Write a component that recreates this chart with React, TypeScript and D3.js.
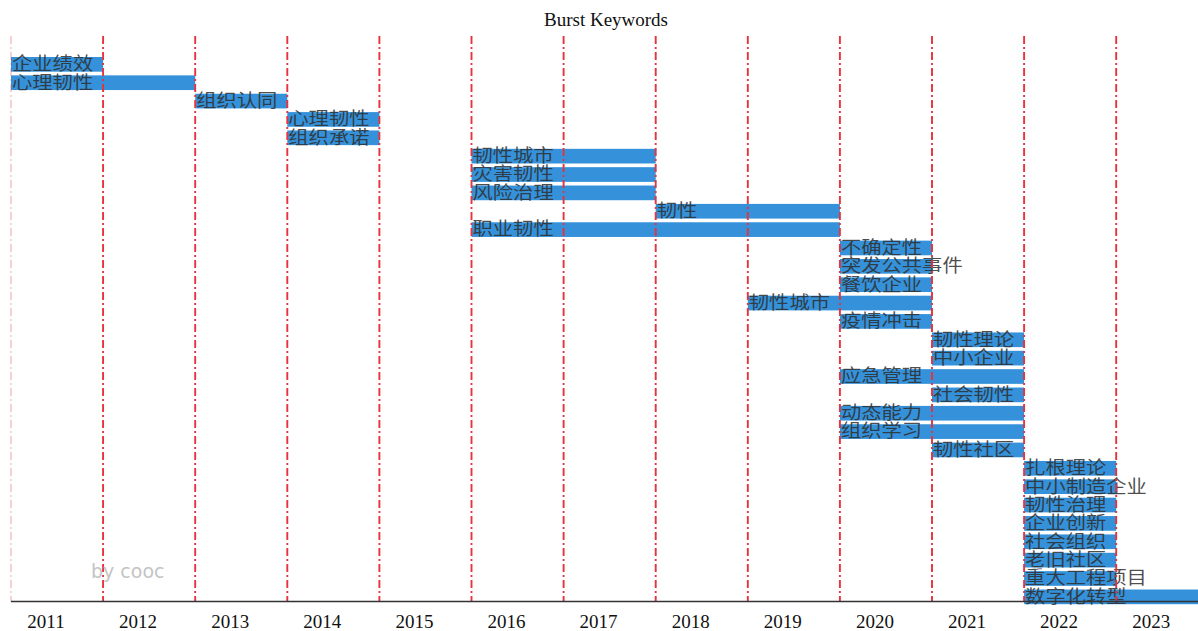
import React from "react";
import * as d3 from "d3";

const title = "Burst Keywords";
const years = [2011, 2012, 2013, 2014, 2015, 2016, 2017, 2018, 2019, 2020, 2021, 2022, 2023];
const keywords = [
  "企业绩效", "心理韧性", "组织认同", "心理韧性", "组织承诺",
  "韧性城市", "灾害韧性", "风险治理", "韧性", "职业韧性",
  "不确定性", "突发公共事件", "餐饮企业", "韧性城市", "疫情冲击",
  "韧性理论", "中小企业", "应急管理", "社会韧性", "动态能力",
  "组织学习", "韧性社区", "扎根理论", "中小制造企业", "韧性治理",
  "企业创新", "社会组织", "老旧社区", "重大工程项目", "数字化转型",
];
const beginYears = [
  2011, 2011, 2013, 2014, 2014,
  2016, 2016, 2016, 2018, 2016,
  2020, 2020, 2020, 2019, 2020,
  2021, 2021, 2020, 2021, 2020,
  2020, 2021, 2022, 2022, 2022,
  2022, 2022, 2022, 2022, 2022,
];
const endYears = [
  2012, 2013, 2014, 2015, 2015,
  2018, 2018, 2018, 2020, 2020,
  2021, 2021, 2021, 2021, 2021,
  2022, 2022, 2022, 2022, 2022,
  2022, 2022, 2023, 2023, 2023,
  2023, 2023, 2023, 2023, 2024,
];

const W = 1198;
const H = 631;

export default function App() {
  const x = d3.scaleLinear().domain([2011, 2024]).range([11, 11 + 13 * 92.1]);
  const y = d3
    .scaleBand<number>()
    .domain(d3.range(keywords.length))
    .range([57, 57 + keywords.length * 18.24])
    .paddingInner(0.2)
    .paddingOuter(0);
  const bh = y.bandwidth();
  const axisY = 601.5;
  const lineYears = years.slice(1);

  return (
    <svg
      width={W}
      height={H}
      style={{ position: "absolute", left: 0, top: 0, background: "#fff" }}
    >
      <text
        x={606}
        y={26}
        textAnchor="middle"
        fontFamily="'Liberation Serif', 'Times New Roman', serif"
        fontSize={19}
        fill="#111"
      >
        {title}
      </text>

      <clipPath id="plot">
        <rect x={0} y={0} width={W} height={H} />
      </clipPath>

      <g clipPath="url(#plot)">
        {keywords.map((k, i) => (
          <rect
            key={"b" + i}
            x={x(beginYears[i])}
            y={y(i)!}
            width={x(endYears[i]) - x(beginYears[i])}
            height={bh}
            fill="#3592da"
          />
        ))}
        {keywords.map((k, i) => (
          <text
            key={"t" + i}
            x={x(beginYears[i]) + 1}
            y={(y(i) as number) + bh - 1.5}
            fontFamily="'Noto Sans CJK SC', sans-serif"
            fontSize={18}
            textLength={k.length * 20.3}
            lengthAdjust="spacingAndGlyphs"
            fill="#2e2e2e"
            fillOpacity={0.85}
          >
            {k}
          </text>
        ))}
      </g>

      <line
        x1={x(2011)}
        x2={x(2011)}
        y1={36}
        y2={axisY}
        stroke="#e8323c"
        strokeOpacity={0.25}
        strokeWidth={1.8}
        strokeDasharray="8,3,2,3"
      />
      {lineYears.map((yr) => (
        <line
          key={"l" + yr}
          x1={x(yr)}
          x2={x(yr)}
          y1={36}
          y2={axisY}
          stroke="#e8323c"
          strokeWidth={1.9}
          strokeDasharray="8,3,2,3"
        />
      ))}

      <line x1={x(2011)} x2={W} y1={axisY} y2={axisY} stroke="#333" strokeWidth={1.6} />

      {years.map((yr) => (
        <text
          key={"y" + yr}
          x={x(yr) + 35}
          y={628}
          textAnchor="middle"
          fontFamily="'Liberation Serif', 'Times New Roman', serif"
          fontSize={19}
          fill="#111"
        >
          {yr}
        </text>
      ))}

      <text
        x={91}
        y={578}
        fontFamily="'DejaVu Sans', sans-serif"
        fontSize={19}
        fill="#c4c4c4"
      >
        by cooc
      </text>
    </svg>
  );
}
